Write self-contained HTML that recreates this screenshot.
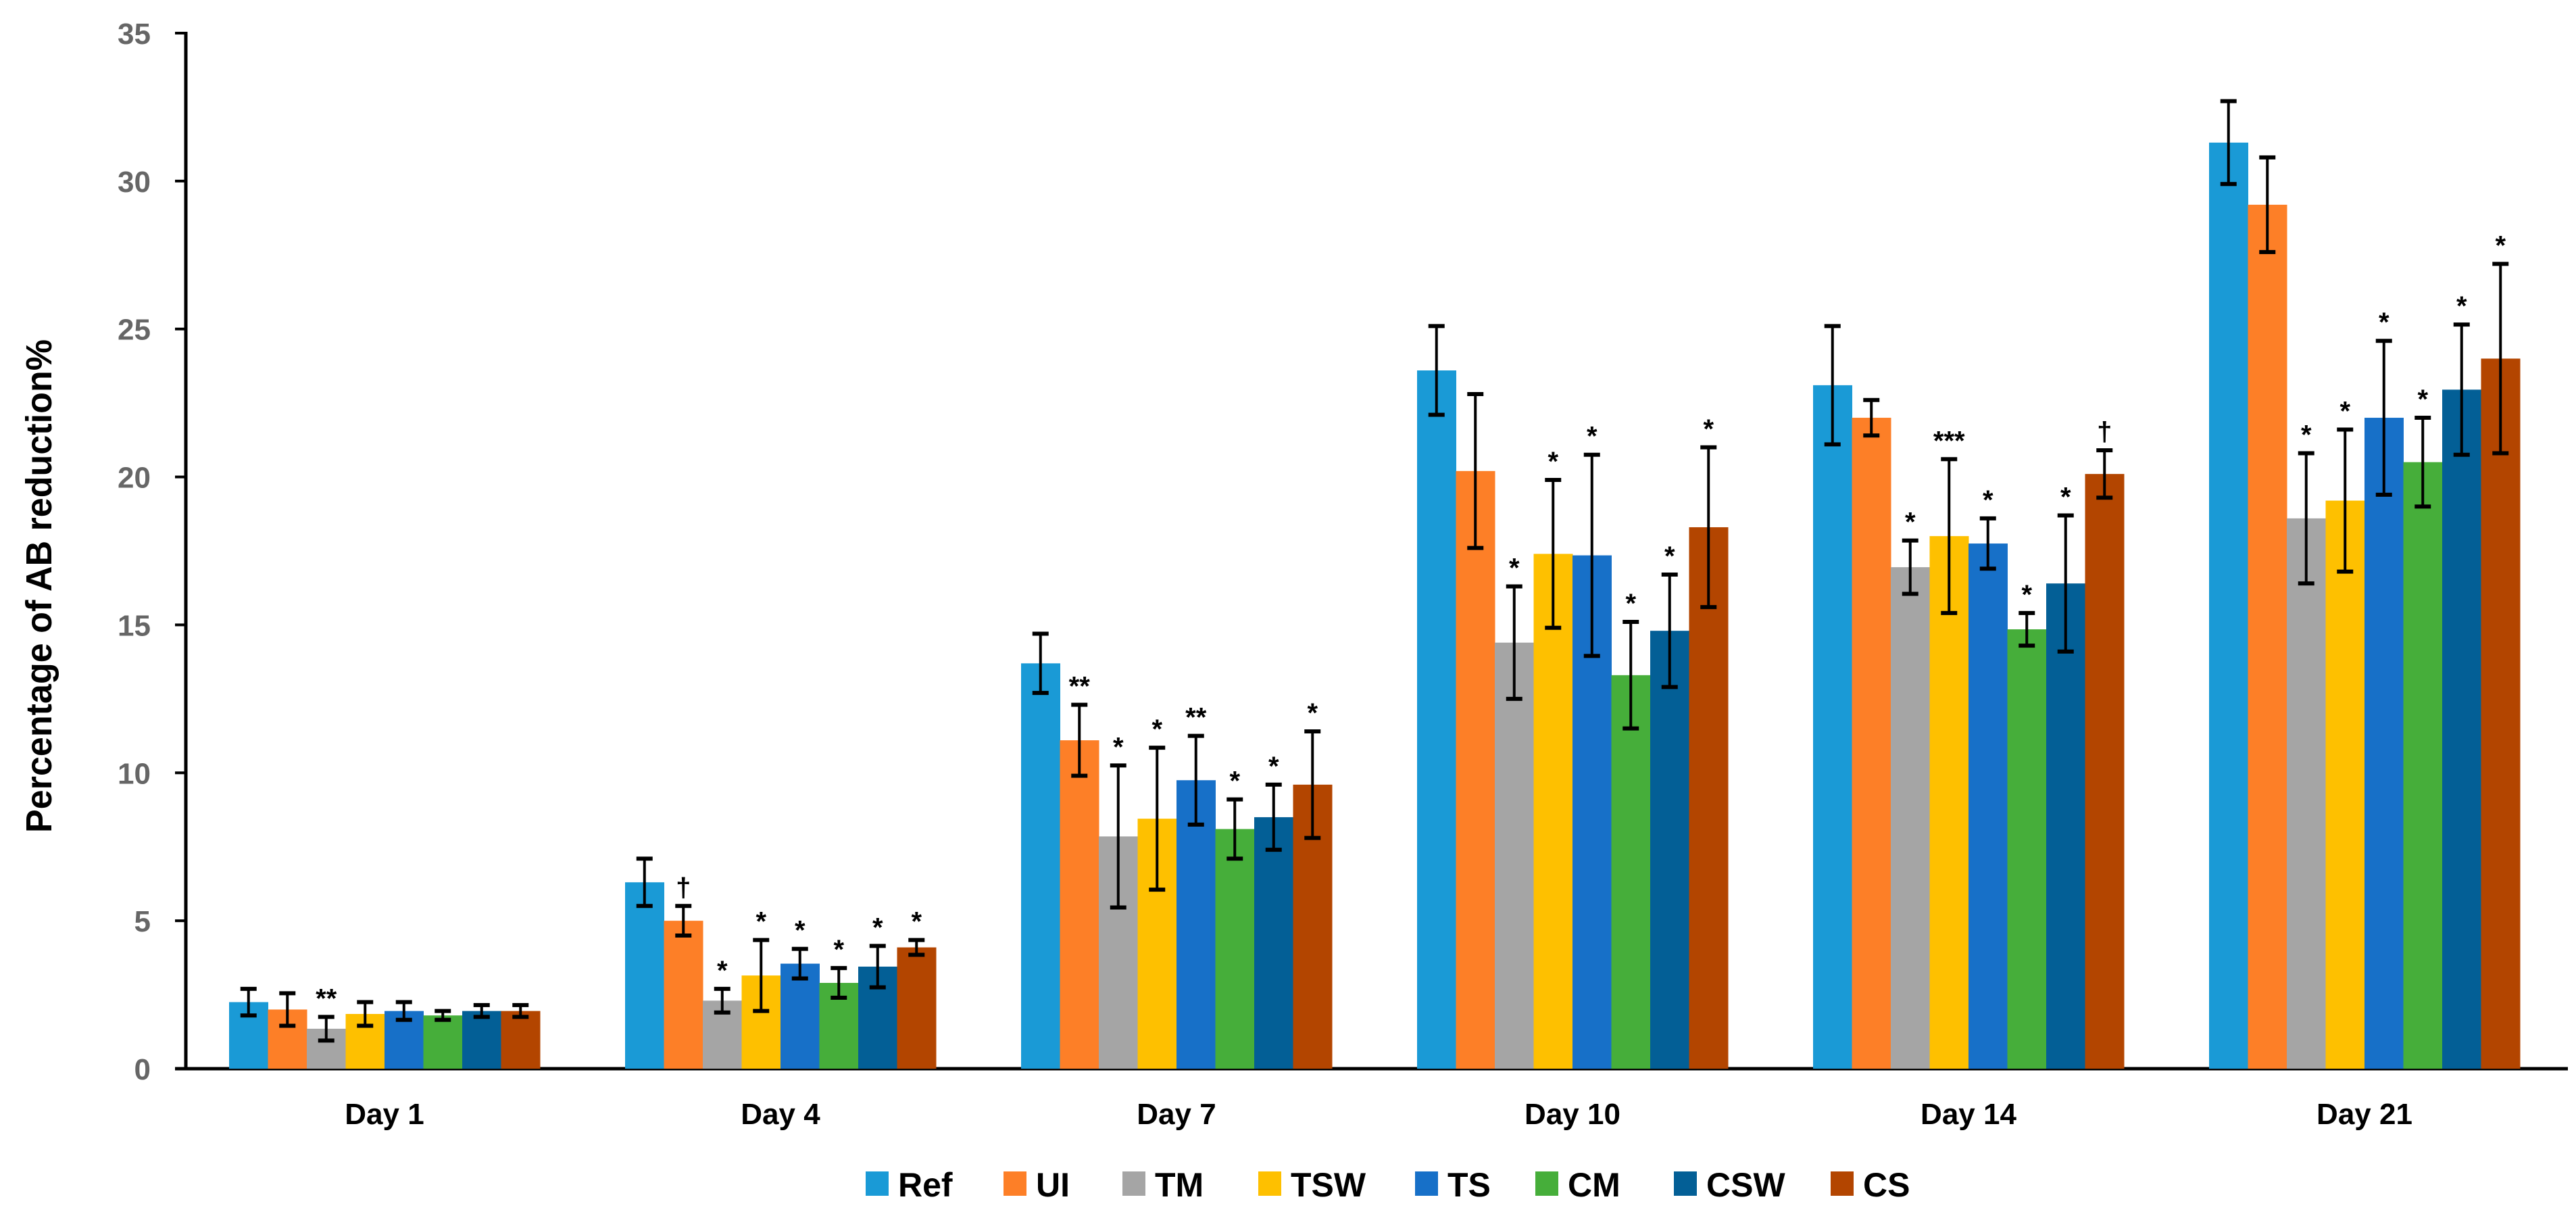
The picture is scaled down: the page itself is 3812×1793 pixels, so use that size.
<!DOCTYPE html>
<html><head><meta charset="utf-8"><style>
html,body{margin:0;padding:0;background:#fff;}
svg{display:block;font-family:"Liberation Sans",sans-serif;}
</style></head><body>
<svg id="chart" width="3812" height="1793" viewBox="0 0 3812 1793" xmlns="http://www.w3.org/2000/svg">
<g id="axes"></g>
<g id="bars"></g>
<g id="legend"></g>
<text transform="translate(76,867) rotate(-90)" text-anchor="middle" font-size="54" font-weight="bold" fill="#000" textLength="730" lengthAdjust="spacingAndGlyphs">Percentage of AB reduction%</text>
</svg>
<script>
const categories = ["Day 1","Day 4","Day 7","Day 10","Day 14","Day 21"];
const seriesNames = ["Ref","UI","TM","TSW","TS","CM","CSW","CS"];
const colors = ["#1a9ad6","#fd7f27","#a5a5a5","#fec000","#1770c8","#46ae3a","#035f96","#b34500"];
const refVals = [2.25,6.3,13.7,23.6,23.1,31.3];
const uiVals  = [2.0,5.0,11.1,20.2,22.0,29.2];
const tmVals  = [1.35,2.3,7.85,14.4,16.95,18.6];
const tswVals = [1.85,3.15,8.45,17.4,18.0,19.2];
const tsVals  = [1.95,3.55,9.75,17.35,17.75,22.0];
const cmVals  = [1.8,2.9,8.1,13.3,14.85,20.5];
const cswVals = [1.95,3.45,8.5,14.8,16.4,22.95];
const csVals  = [1.95,4.1,9.6,18.3,20.1,24.0];
const refErr = [0.45,0.8,1.0,1.5,2.0,1.4];
const uiErr  = [0.55,0.5,1.2,2.6,0.6,1.6];
const tmErr  = [0.4,0.4,2.4,1.9,0.9,2.2];
const tswErr = [0.4,1.2,2.4,2.5,2.6,2.4];
const tsErr  = [0.3,0.5,1.5,3.4,0.85,2.6];
const cmErr  = [0.15,0.5,1.0,1.8,0.55,1.5];
const cswErr = [0.2,0.7,1.1,1.9,2.3,2.2];
const csErr  = [0.2,0.25,1.8,2.7,0.8,3.2];
const refSig = ["","","","","",""];
const uiSig  = ["","†","**","","",""];
const tmSig  = ["**","*","*","*","*","*"];
const tswSig = ["","*","*","*","***","*"];
const tsSig  = ["","*","**","*","*","*"];
const cmSig  = ["","*","*","*","*","*"];
const cswSig = ["","*","*","*","*","*"];
const csSig  = ["","*","*","*","†","*"];
const yTicks = [0,5,10,15,20,25,30,35];

const vals=[refVals,uiVals,tmVals,tswVals,tsVals,cmVals,cswVals,csVals];
const errs=[refErr,uiErr,tmErr,tswErr,tsErr,cmErr,cswErr,csErr];
const sigs=[refSig,uiSig,tmSig,tswSig,tsSig,cmSig,cswSig,csSig];
const NS="http://www.w3.org/2000/svg";
const X0=275,X1=3800,Y0=1581,Y35=49;
const y=v=>Y0-(v/35)*(Y0-Y35);
const c0=569, gw=586, bw=57.5;
const gc=c=>c0+gw*c;
const x=(c,s)=>gc(c)+(s-4)*bw;
function mk(tag,at,parent){const e=document.createElementNS(NS,tag);for(const k in at)e.setAttribute(k,at[k]);parent.appendChild(e);return e;}
const axes=document.getElementById('axes'),bars=document.getElementById('bars'),leg=document.getElementById('legend');
let ln=mk('line',{x1:X0,y1:Y35-2,x2:X0,y2:Y0,stroke:'#000','stroke-width':5},axes);


ln=mk('line',{x1:X0-16,y1:Y0,x2:X1,y2:Y0,stroke:'#000','stroke-width':5},axes);


yTicks.forEach(t=>{
  const tk=mk('line',{x1:X0-16,y1:y(t),x2:X0,y2:y(t),stroke:'#000','stroke-width':4},axes);
  
  
  const tx=mk('text',{x:223,y:y(t)+16,'text-anchor':'end','font-size':44,'font-weight':'bold',fill:'#666'},axes);
  tx.textContent=t;
  
  
});
categories.forEach((c,ci)=>{
  const tx=mk('text',{x:gc(ci),y:1663,'text-anchor':'middle','font-size':44,'font-weight':'bold',fill:'#000'},axes);
  tx.textContent=c;
  
  
  seriesNames.forEach((s,si)=>{
    const v=vals[si][ci],e=errs[si][ci],bx=x(ci,si);
    const r=mk('rect',{x:bx,y:y(v),width:bw+0.5,height:Y0-y(v),fill:colors[si]},bars);
    
    
    const cx=bx+bw/2, t=y(v+e), b=y(v-e);
    const g=mk('g',{stroke:'#000','stroke-width':4},bars);
    
    
    mk('line',{x1:cx,y1:t,x2:cx,y2:b},g);
    mk('line',{x1:cx-12,y1:t,x2:cx+12,y2:t,'stroke-width':6},g);
    mk('line',{x1:cx-12,y1:b,x2:cx+12,y2:b,'stroke-width':6},g);
    if(sigs[si][ci]){
      const st=mk('text',{x:cx,y:t-14,'text-anchor':'middle','font-size':40,'font-weight':'bold',fill:'#000'},bars);
      st.textContent=sigs[si][ci];
      
      
    }
  });
});
const legX=[1281,1485,1661,1862,2094,2272,2477,2709];
seriesNames.forEach((s,si)=>{
  const g=mk('g',{},leg);
  
  
  mk('rect',{x:legX[si],y:1733,width:34,height:36,fill:colors[si]},g);
  const tx=mk('text',{x:legX[si]+48,y:1770,'font-size':50,'font-weight':'bold',fill:'#000'},g);
  tx.textContent=s;
});
</script>
</body></html>
